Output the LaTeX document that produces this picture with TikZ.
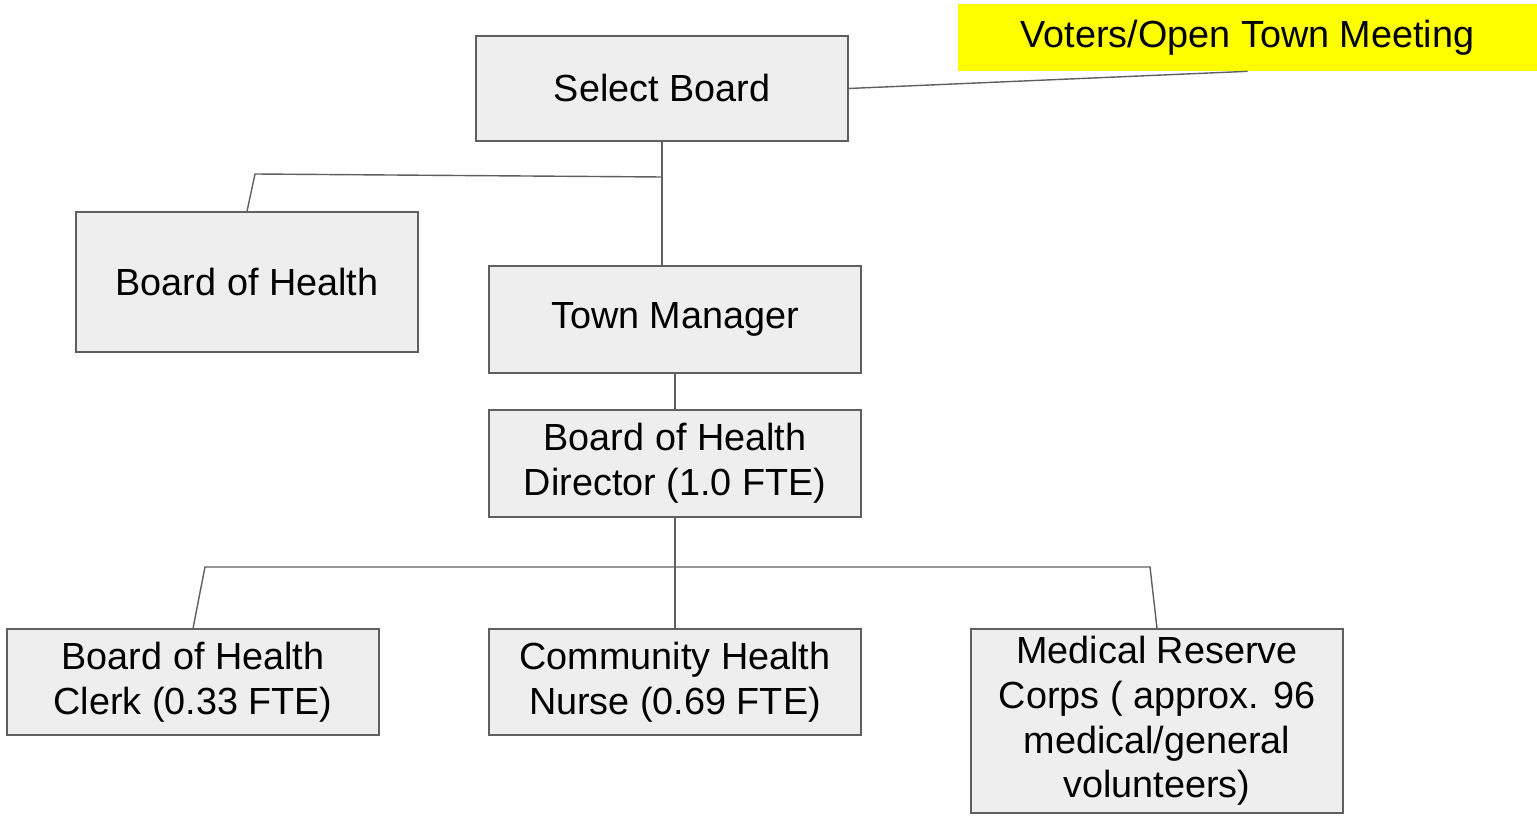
\documentclass[tikz,border=0pt]{standalone}
\usepackage{fontspec}
\setmainfont{Liberation Sans}
\definecolor{boxfill}{HTML}{EEEEEE}
\definecolor{boxline}{HTML}{5F5F5F}
\definecolor{votersbg}{HTML}{FFFF00}
\begin{document}
\begin{tikzpicture}[x=0.02cm,y=-0.02cm,
  orgbox/.style={draw=boxline,fill=boxfill,line width=0.7pt,align=center,inner sep=0pt,
    minimum width=7.44cm,minimum height=2.12cm,font=\fontsize{21.5}{25.5}\selectfont},
  link/.style={draw=boxline,line width=0.8pt}]
\useasboundingbox (0,0) rectangle (1537,817);
\node[fill=votersbg,minimum width=11.58cm,minimum height=1.34cm,inner sep=0pt,
  font=\fontsize{21.5}{25.5}\selectfont] (voters) at (1247.5,37.5) {Voters/Open Town Meeting};
\node[orgbox,minimum height=2.1cm] (sb) at (662,88.5) {Select Board};
\node[orgbox,minimum width=6.84cm,minimum height=2.8cm] (boh) at (247,282) {Board of Health};
\node[orgbox,minimum height=2.14cm] (tm) at (675,319.5) {Town Manager};
\node[orgbox,minimum height=2.14cm] (dir) at (675,463.5) {Board of Health\\Director (1.0 FTE)};
\node[orgbox] (clerk) at (193,682) {Board of Health\\Clerk (0.33 FTE)};
\node[orgbox] (nurse) at (675,682) {Community Health\\Nurse (0.69 FTE)};
\node[orgbox,minimum height=3.68cm] (mrc) at (1157,721) {Medical Reserve\\Corps ( approx. 96\\medical/general\\volunteers)};
\coordinate (sbjoin) at (662,177);
\coordinate (bohtop) at (255,174);
\coordinate (busl) at (205,567);
\coordinate (busr) at (1150,567);
\draw[link] (sb.east) -- (voters.south);
\draw[link] (sb.south) -- (sb.south |- tm.north);
\draw[link] (sbjoin) -- (bohtop) -- (boh.north);
\draw[link] (tm.south) -- (dir.north);
\draw[link] (dir.south) -- (nurse.north);
\draw[link] (clerk.north) -- (busl) -- (busr) -- (mrc.north);
\end{tikzpicture}
\end{document}
